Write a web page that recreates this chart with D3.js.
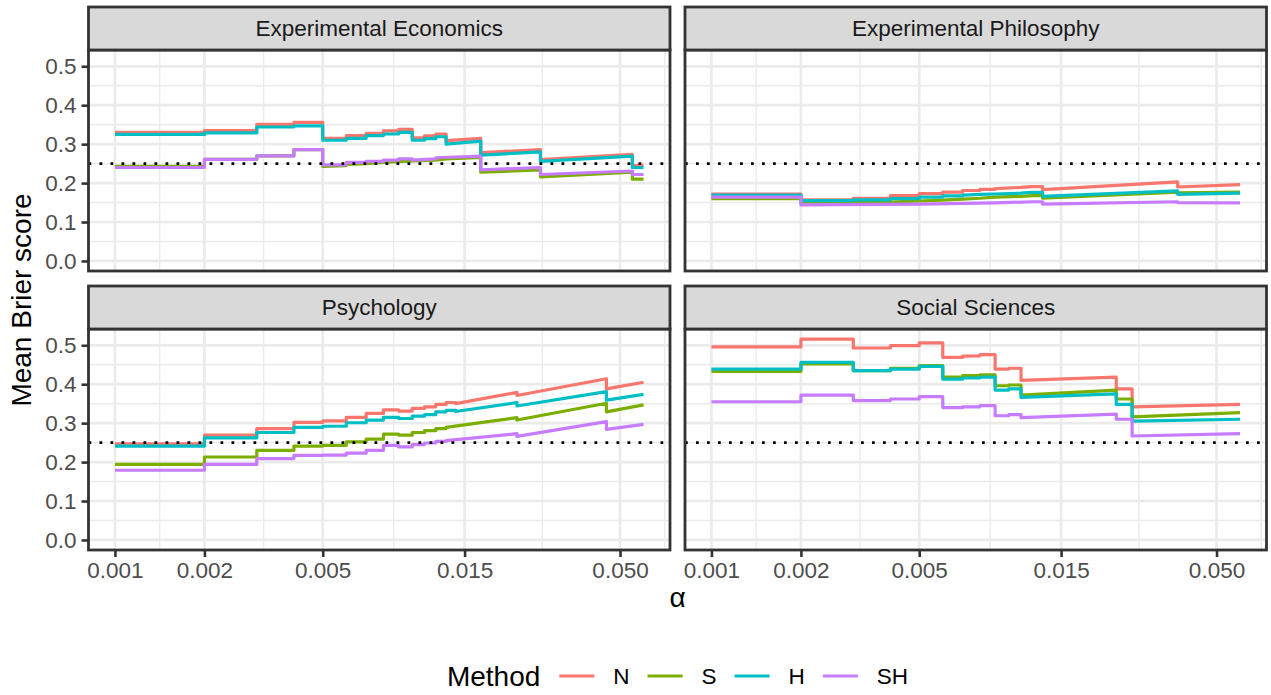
<!DOCTYPE html>
<html>
<head>
<meta charset="utf-8">
<script src="https://cdn.jsdelivr.net/npm/d3@7"></script>
<style>
  body { margin: 0; background: #fff; }
  svg { display: block; font-family: "Liberation Sans", Arial, sans-serif; }
</style>
</head>
<body>
<div id="chart"></div>
<script>
// facets and methods
var panels = ["Experimental Economics", "Experimental Philosophy", "Psychology", "Social Sciences"];
var methods = ["N", "S", "H", "SH"];
var alphaTicks = [0.001, 0.002, 0.005, 0.015, 0.050];
var brierTicks = [0, 0.1, 0.2, 0.3, 0.4, 0.5];
var chanceLevel = 0.25;

// [alpha, mean Brier score] vertices
var econN = [[0.001,0.330],[0.002,0.330],[0.002,0.335],[0.003,0.335],[0.003,0.351],[0.004,0.351],[0.004,0.356],[0.005,0.356],[0.005,0.315],[0.006,0.315],[0.006,0.322],[0.007,0.322],[0.007,0.328],[0.008,0.328],[0.008,0.334],[0.009,0.334],[0.009,0.338],[0.010,0.338],[0.010,0.316],[0.011,0.316],[0.011,0.321],[0.012,0.321],[0.012,0.326],[0.013,0.326],[0.013,0.309],[0.017,0.315],[0.017,0.278],[0.027,0.286],[0.027,0.260],[0.055,0.274],[0.055,0.244],[0.060,0.246]];
var econS = [[0.001,0.243],[0.002,0.243],[0.002,0.261],[0.003,0.261],[0.003,0.270],[0.004,0.270],[0.004,0.286],[0.005,0.286],[0.005,0.243],[0.006,0.245],[0.006,0.248],[0.007,0.250],[0.008,0.253],[0.010,0.257],[0.012,0.259],[0.013,0.262],[0.017,0.266],[0.017,0.228],[0.027,0.234],[0.027,0.216],[0.055,0.228],[0.055,0.210],[0.060,0.210]];
var econH = [[0.001,0.325],[0.002,0.325],[0.002,0.329],[0.003,0.329],[0.003,0.344],[0.004,0.344],[0.004,0.347],[0.005,0.347],[0.005,0.310],[0.006,0.310],[0.006,0.315],[0.007,0.315],[0.007,0.322],[0.008,0.322],[0.008,0.326],[0.009,0.326],[0.009,0.330],[0.010,0.330],[0.010,0.310],[0.011,0.310],[0.011,0.314],[0.012,0.314],[0.012,0.319],[0.013,0.319],[0.013,0.300],[0.017,0.308],[0.017,0.272],[0.027,0.280],[0.027,0.256],[0.055,0.269],[0.055,0.240],[0.060,0.240]];
var econSH = [[0.001,0.240],[0.002,0.240],[0.002,0.261],[0.003,0.261],[0.003,0.270],[0.004,0.270],[0.004,0.286],[0.005,0.286],[0.005,0.247],[0.006,0.247],[0.006,0.253],[0.007,0.253],[0.007,0.256],[0.008,0.256],[0.008,0.259],[0.009,0.259],[0.009,0.262],[0.010,0.262],[0.010,0.259],[0.012,0.262],[0.012,0.265],[0.017,0.269],[0.017,0.234],[0.027,0.240],[0.027,0.222],[0.055,0.231],[0.055,0.222],[0.060,0.222]];

var philN = [[0.001,0.172],[0.002,0.172],[0.002,0.157],[0.003,0.157],[0.003,0.161],[0.004,0.161],[0.004,0.168],[0.005,0.168],[0.005,0.173],[0.006,0.173],[0.006,0.177],[0.007,0.177],[0.007,0.181],[0.008,0.181],[0.008,0.184],[0.009,0.184],[0.009,0.186],[0.011,0.189],[0.012,0.191],[0.013,0.191],[0.013,0.183],[0.037,0.203],[0.037,0.190],[0.060,0.196]];
var philS = [[0.001,0.160],[0.002,0.160],[0.002,0.151],[0.004,0.151],[0.005,0.154],[0.006,0.156],[0.007,0.159],[0.008,0.161],[0.009,0.164],[0.011,0.166],[0.012,0.168],[0.013,0.168],[0.013,0.161],[0.037,0.177],[0.037,0.175],[0.060,0.177]];
var philH = [[0.001,0.169],[0.002,0.169],[0.002,0.155],[0.003,0.155],[0.003,0.157],[0.004,0.157],[0.004,0.160],[0.005,0.160],[0.005,0.164],[0.006,0.164],[0.006,0.167],[0.007,0.167],[0.007,0.169],[0.008,0.171],[0.009,0.172],[0.011,0.174],[0.012,0.176],[0.013,0.176],[0.013,0.166],[0.037,0.180],[0.037,0.171],[0.060,0.174]];
var philSH = [[0.001,0.164],[0.002,0.164],[0.002,0.144],[0.005,0.146],[0.009,0.149],[0.012,0.152],[0.013,0.152],[0.013,0.146],[0.037,0.152],[0.037,0.150],[0.060,0.149]];

var psychN = [[0.001,0.247],[0.002,0.247],[0.002,0.269],[0.003,0.269],[0.003,0.286],[0.004,0.286],[0.004,0.302],[0.005,0.302],[0.005,0.306],[0.006,0.306],[0.006,0.315],[0.007,0.315],[0.007,0.325],[0.008,0.325],[0.008,0.334],[0.009,0.334],[0.009,0.331],[0.010,0.331],[0.010,0.338],[0.011,0.338],[0.011,0.342],[0.012,0.342],[0.012,0.348],[0.013,0.348],[0.013,0.353],[0.014,0.353],[0.014,0.350],[0.0225,0.379],[0.0225,0.371],[0.045,0.414],[0.045,0.388],[0.060,0.405]];
var psychS = [[0.001,0.194],[0.002,0.194],[0.002,0.213],[0.003,0.213],[0.003,0.230],[0.004,0.230],[0.004,0.241],[0.005,0.241],[0.005,0.243],[0.006,0.243],[0.006,0.252],[0.007,0.252],[0.007,0.259],[0.008,0.259],[0.008,0.272],[0.009,0.272],[0.009,0.269],[0.010,0.269],[0.010,0.276],[0.011,0.276],[0.011,0.281],[0.012,0.281],[0.012,0.286],[0.013,0.286],[0.013,0.289],[0.0225,0.314],[0.0225,0.308],[0.045,0.351],[0.045,0.329],[0.060,0.347]];
var psychH = [[0.001,0.241],[0.002,0.241],[0.002,0.262],[0.003,0.262],[0.003,0.276],[0.004,0.276],[0.004,0.289],[0.005,0.289],[0.005,0.292],[0.006,0.292],[0.006,0.301],[0.007,0.301],[0.007,0.308],[0.008,0.308],[0.008,0.315],[0.009,0.315],[0.009,0.312],[0.010,0.312],[0.010,0.318],[0.011,0.318],[0.011,0.322],[0.012,0.322],[0.012,0.329],[0.013,0.329],[0.013,0.333],[0.014,0.333],[0.014,0.330],[0.0225,0.353],[0.0225,0.344],[0.045,0.381],[0.045,0.359],[0.060,0.374]];
var psychSH = [[0.001,0.179],[0.002,0.179],[0.002,0.194],[0.003,0.194],[0.003,0.209],[0.004,0.209],[0.004,0.217],[0.005,0.217],[0.005,0.218],[0.006,0.218],[0.006,0.223],[0.007,0.223],[0.007,0.230],[0.008,0.230],[0.008,0.243],[0.009,0.243],[0.009,0.239],[0.010,0.239],[0.010,0.245],[0.011,0.245],[0.011,0.249],[0.012,0.249],[0.012,0.253],[0.013,0.253],[0.013,0.255],[0.0225,0.273],[0.0225,0.266],[0.045,0.304],[0.045,0.284],[0.060,0.297]];

var socN = [[0.001,0.496],[0.002,0.496],[0.002,0.516],[0.003,0.516],[0.003,0.493],[0.004,0.493],[0.004,0.499],[0.005,0.499],[0.005,0.506],[0.006,0.506],[0.006,0.469],[0.007,0.469],[0.007,0.472],[0.008,0.473],[0.008,0.476],[0.009,0.476],[0.009,0.439],[0.010,0.439],[0.010,0.441],[0.011,0.441],[0.011,0.410],[0.023,0.418],[0.023,0.388],[0.026,0.388],[0.026,0.342],[0.060,0.348]];
var socS = [[0.001,0.433],[0.002,0.433],[0.002,0.452],[0.003,0.452],[0.003,0.435],[0.004,0.435],[0.004,0.441],[0.005,0.441],[0.005,0.448],[0.006,0.448],[0.006,0.418],[0.007,0.418],[0.007,0.422],[0.008,0.422],[0.008,0.424],[0.009,0.424],[0.009,0.396],[0.010,0.396],[0.010,0.398],[0.011,0.398],[0.011,0.372],[0.023,0.385],[0.023,0.362],[0.026,0.362],[0.026,0.316],[0.060,0.327]];
var socH = [[0.001,0.439],[0.002,0.439],[0.002,0.456],[0.003,0.456],[0.003,0.435],[0.004,0.435],[0.004,0.439],[0.005,0.439],[0.005,0.446],[0.006,0.446],[0.006,0.413],[0.007,0.413],[0.007,0.416],[0.008,0.416],[0.008,0.418],[0.009,0.418],[0.009,0.385],[0.010,0.385],[0.010,0.388],[0.011,0.388],[0.011,0.366],[0.023,0.375],[0.023,0.348],[0.026,0.348],[0.026,0.305],[0.060,0.310]];
var socSH = [[0.001,0.355],[0.002,0.355],[0.002,0.372],[0.003,0.372],[0.003,0.358],[0.004,0.358],[0.004,0.362],[0.005,0.362],[0.005,0.368],[0.006,0.368],[0.006,0.340],[0.007,0.340],[0.007,0.342],[0.008,0.342],[0.008,0.345],[0.009,0.345],[0.009,0.319],[0.010,0.319],[0.010,0.322],[0.011,0.322],[0.011,0.314],[0.023,0.323],[0.023,0.310],[0.026,0.310],[0.026,0.267],[0.060,0.273]];

var seriesByPanel = [
  [econN, econS, econH, econSH],
  [philN, philS, philH, philSH],
  [psychN, psychS, psychH, psychSH],
  [socN, socS, socH, socSH]
];

var methodColors = ["#F8766D", "#7CAE00", "#00BFC4", "#C77CFF"];

var width = 1271, height = 695;
var panelW = 581.5, panelH = 221, stripH = 43;
var colX = [88.5, 685];
var rowY = [7, 286];
var smallFont = 22.5, bigFont = 28;

var svg = d3.select('#chart').append('svg')
  .attr('width', width)
  .attr('height', height);
svg.append('rect').attr('width', width).attr('height', height).attr('fill', '#fff');

// shared scales, ggplot style 5% expansion
var allPts = d3.merge(d3.merge(seriesByPanel));
var ax = d3.extent(allPts, function(d) { return d[0]; });
var lx0 = Math.log10(ax[0]), lx1 = Math.log10(ax[1]);
var padX = (lx1 - lx0) * 0.05;
var x = d3.scaleLog()
  .domain([Math.pow(10, lx0 - padX), Math.pow(10, lx1 + padX)])
  .range([0, panelW]);

var yMax = d3.max(allPts, function(d) { return d[1]; });
var padY = yMax * 0.05;
var y = d3.scaleLinear().domain([0 - padY, yMax + padY]).range([panelH, 0]);

// minor breaks: midpoints between majors (log space for x)
var lb = alphaTicks.map(function(v) { return Math.log10(v); });
var bd = lb[1] - lb[0];
var lbExt = [lb[0] - bd].concat(lb, [lb[lb.length - 1] + bd]);
var xMinor = [];
for (var i = 0; i < lbExt.length - 1; i++) {
  var m = Math.pow(10, (lbExt[i] + lbExt[i + 1]) / 2);
  if (m >= x.domain()[0] && m <= x.domain()[1]) xMinor.push(m);
}
var yMinor = [];
for (var j = -1; j < brierTicks.length; j++) {
  var mv = (j + 0.5) * 0.1;
  if (mv >= y.domain()[0] && mv <= y.domain()[1]) yMinor.push(mv);
}

var line = d3.line()
  .x(function(d) { return x(d[0]); })
  .y(function(d) { return y(d[1]); });

panels.forEach(function(name, p) {
  var c = p % 2, r = Math.floor(p / 2);
  var g = svg.append('g')
    .attr('transform', 'translate(' + colX[c] + ',' + (rowY[r] + stripH) + ')');

  // grid
  g.selectAll('line.xminor').data(xMinor).enter().append('line')
    .attr('x1', x).attr('x2', x).attr('y1', 0).attr('y2', panelH)
    .attr('stroke', '#EBEBEB').attr('stroke-width', 1.4);
  g.selectAll('line.yminor').data(yMinor).enter().append('line')
    .attr('x1', 0).attr('x2', panelW).attr('y1', y).attr('y2', y)
    .attr('stroke', '#EBEBEB').attr('stroke-width', 1.4);
  g.selectAll('line.xmajor').data(alphaTicks).enter().append('line')
    .attr('x1', x).attr('x2', x).attr('y1', 0).attr('y2', panelH)
    .attr('stroke', '#EBEBEB').attr('stroke-width', 2.7);
  g.selectAll('line.ymajor').data(brierTicks).enter().append('line')
    .attr('x1', 0).attr('x2', panelW).attr('y1', y).attr('y2', y)
    .attr('stroke', '#EBEBEB').attr('stroke-width', 2.7);

  // step lines
  seriesByPanel[p].forEach(function(s, k) {
    g.append('path')
      .datum(s)
      .attr('d', line)
      .attr('fill', 'none')
      .attr('stroke', methodColors[k])
      .attr('stroke-width', 3.2)
      .attr('stroke-linejoin', 'round');
  });

  // chance line
  g.append('line')
    .attr('x1', 0).attr('x2', panelW)
    .attr('y1', y(chanceLevel)).attr('y2', y(chanceLevel))
    .attr('stroke', '#000')
    .attr('stroke-width', 2.75)
    .attr('stroke-dasharray', '2.75,8.25');

  g.append('rect')
    .attr('width', panelW).attr('height', panelH)
    .attr('fill', 'none').attr('stroke', '#333333').attr('stroke-width', 2.8);

  // strip
  g.append('rect')
    .attr('y', -stripH).attr('width', panelW).attr('height', stripH)
    .attr('fill', '#D9D9D9').attr('stroke', '#333333').attr('stroke-width', 2.8);
  g.append('text')
    .attr('x', panelW / 2).attr('y', -stripH / 2)
    .attr('dy', '0.35em')
    .attr('text-anchor', 'middle')
    .attr('fill', '#1A1A1A')
    .style('font-size', smallFont + 'px')
    .text(name);

  // axes only on outer panels
  if (c === 0) {
    var ya = g.append('g').call(d3.axisLeft(y).tickValues(brierTicks)
      .tickFormat(d3.format('.1f')).tickSize(7).tickPadding(5));
    styleAxis(ya);
  }
  if (r === 1) {
    var xa = g.append('g').attr('transform', 'translate(0,' + panelH + ')')
      .call(d3.axisBottom(x).tickValues(alphaTicks)
        .tickFormat(d3.format('.3f')).tickSize(7).tickPadding(5));
    styleAxis(xa);
  }
});

function styleAxis(a) {
  a.select('.domain').remove();
  a.selectAll('.tick line').attr('stroke', '#333333').attr('stroke-width', 2.6);
  a.selectAll('.tick text')
    .attr('fill', '#4D4D4D')
    .style('font-size', smallFont + 'px')
    .style('font-family', '"Liberation Sans", Arial, sans-serif');
}

// axis titles
var midX = (colX[0] + colX[1] + panelW) / 2;
svg.append('text')
  .attr('x', midX).attr('y', 607)
  .attr('text-anchor', 'middle')
  .style('font-size', bigFont + 'px')
  .text('α');

svg.append('text')
  .attr('transform', 'translate(31,' + ((rowY[0] + stripH + rowY[1] + stripH + panelH) / 2) + ') rotate(-90)')
  .attr('text-anchor', 'middle')
  .style('font-size', bigFont + 'px')
  .text('Mean Brier score');

// legend
var legend = svg.append('g');
var legTitle = legend.append('text')
  .attr('y', 686)
  .style('font-size', bigFont + 'px')
  .text('Method');
var cursor = legTitle.node().getComputedTextLength() + 19;
methods.forEach(function(mName, k) {
  legend.append('line')
    .attr('x1', cursor).attr('x2', cursor + 35)
    .attr('y1', 676).attr('y2', 676)
    .attr('stroke', methodColors[k]).attr('stroke-width', 3.2);
  var t = legend.append('text')
    .attr('x', cursor + 54).attr('y', 684)
    .style('font-size', smallFont + 'px')
    .text(mName);
  cursor += 54 + t.node().getComputedTextLength() + 18;
});
var legW = cursor - 18;
legend.attr('transform', 'translate(' + (midX - legW / 2) + ',0)');
</script>
</body>
</html>
